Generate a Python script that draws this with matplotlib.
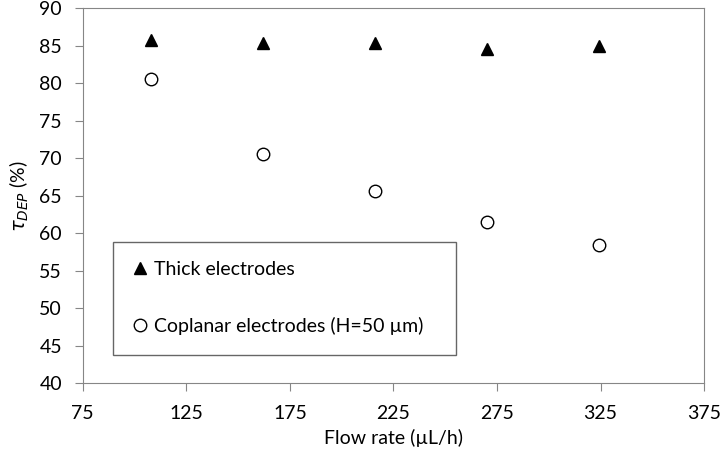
import matplotlib
matplotlib.use('Agg')
import matplotlib.pyplot as plt

# data
flow_rate = [108, 162, 216, 270, 324]
thick = [85.7, 85.3, 85.4, 84.6, 85.0]
coplanar = [80.5, 70.5, 65.6, 61.5, 58.4]

x_ticks = [75, 125, 175, 225, 275, 325, 375]
y_ticks = [40, 45, 50, 55, 60, 65, 70, 75, 80, 85, 90]

plt.rcParams['font.family'] = ['Lato', 'DejaVu Sans']
plt.rcParams['mathtext.fontset'] = 'dejavusans'

fig = plt.figure(figsize=(7.2, 4.55), dpi=100)
ax = fig.add_axes([0.115, 0.158, 0.863, 0.824])

ax.plot(flow_rate, thick, linestyle='none', marker='^', markersize=9,
        color='black', label='Thick electrodes')
ax.plot(flow_rate, coplanar, linestyle='none', marker='o', markersize=9,
        markerfacecolor='white', markeredgecolor='black', markeredgewidth=1,
        label='Coplanar electrodes (H=50 µm)')

ax.set_xlim(75, 375)
ax.set_ylim(40, 90)
ax.set_xticks(x_ticks)
ax.set_yticks(y_ticks)

for s in ax.spines.values():
    s.set_color('#868686')
ax.tick_params(direction='out', length=6, color='#868686', labelsize=14)
ax.tick_params(axis='x', pad=10)
ax.tick_params(axis='y', pad=9)

ax.set_xlabel('Flow rate (µL/h)', fontsize=14, labelpad=5)
ax.set_ylabel(r'$\tau_{DEP}$ (%)', fontsize=14, labelpad=6)

# legend box
leg = ax.legend(loc='upper left', bbox_to_anchor=(0.049, 0.072, 0.552, 0.305),
                mode='expand', fontsize=14, frameon=True, fancybox=False,
                edgecolor='#404040', handlelength=0.8, handletextpad=0.3,
                labelspacing=2.0, borderpad=1.0, borderaxespad=0)
leg.get_frame().set_linewidth(1)

fig.savefig('out.png', dpi=100)
